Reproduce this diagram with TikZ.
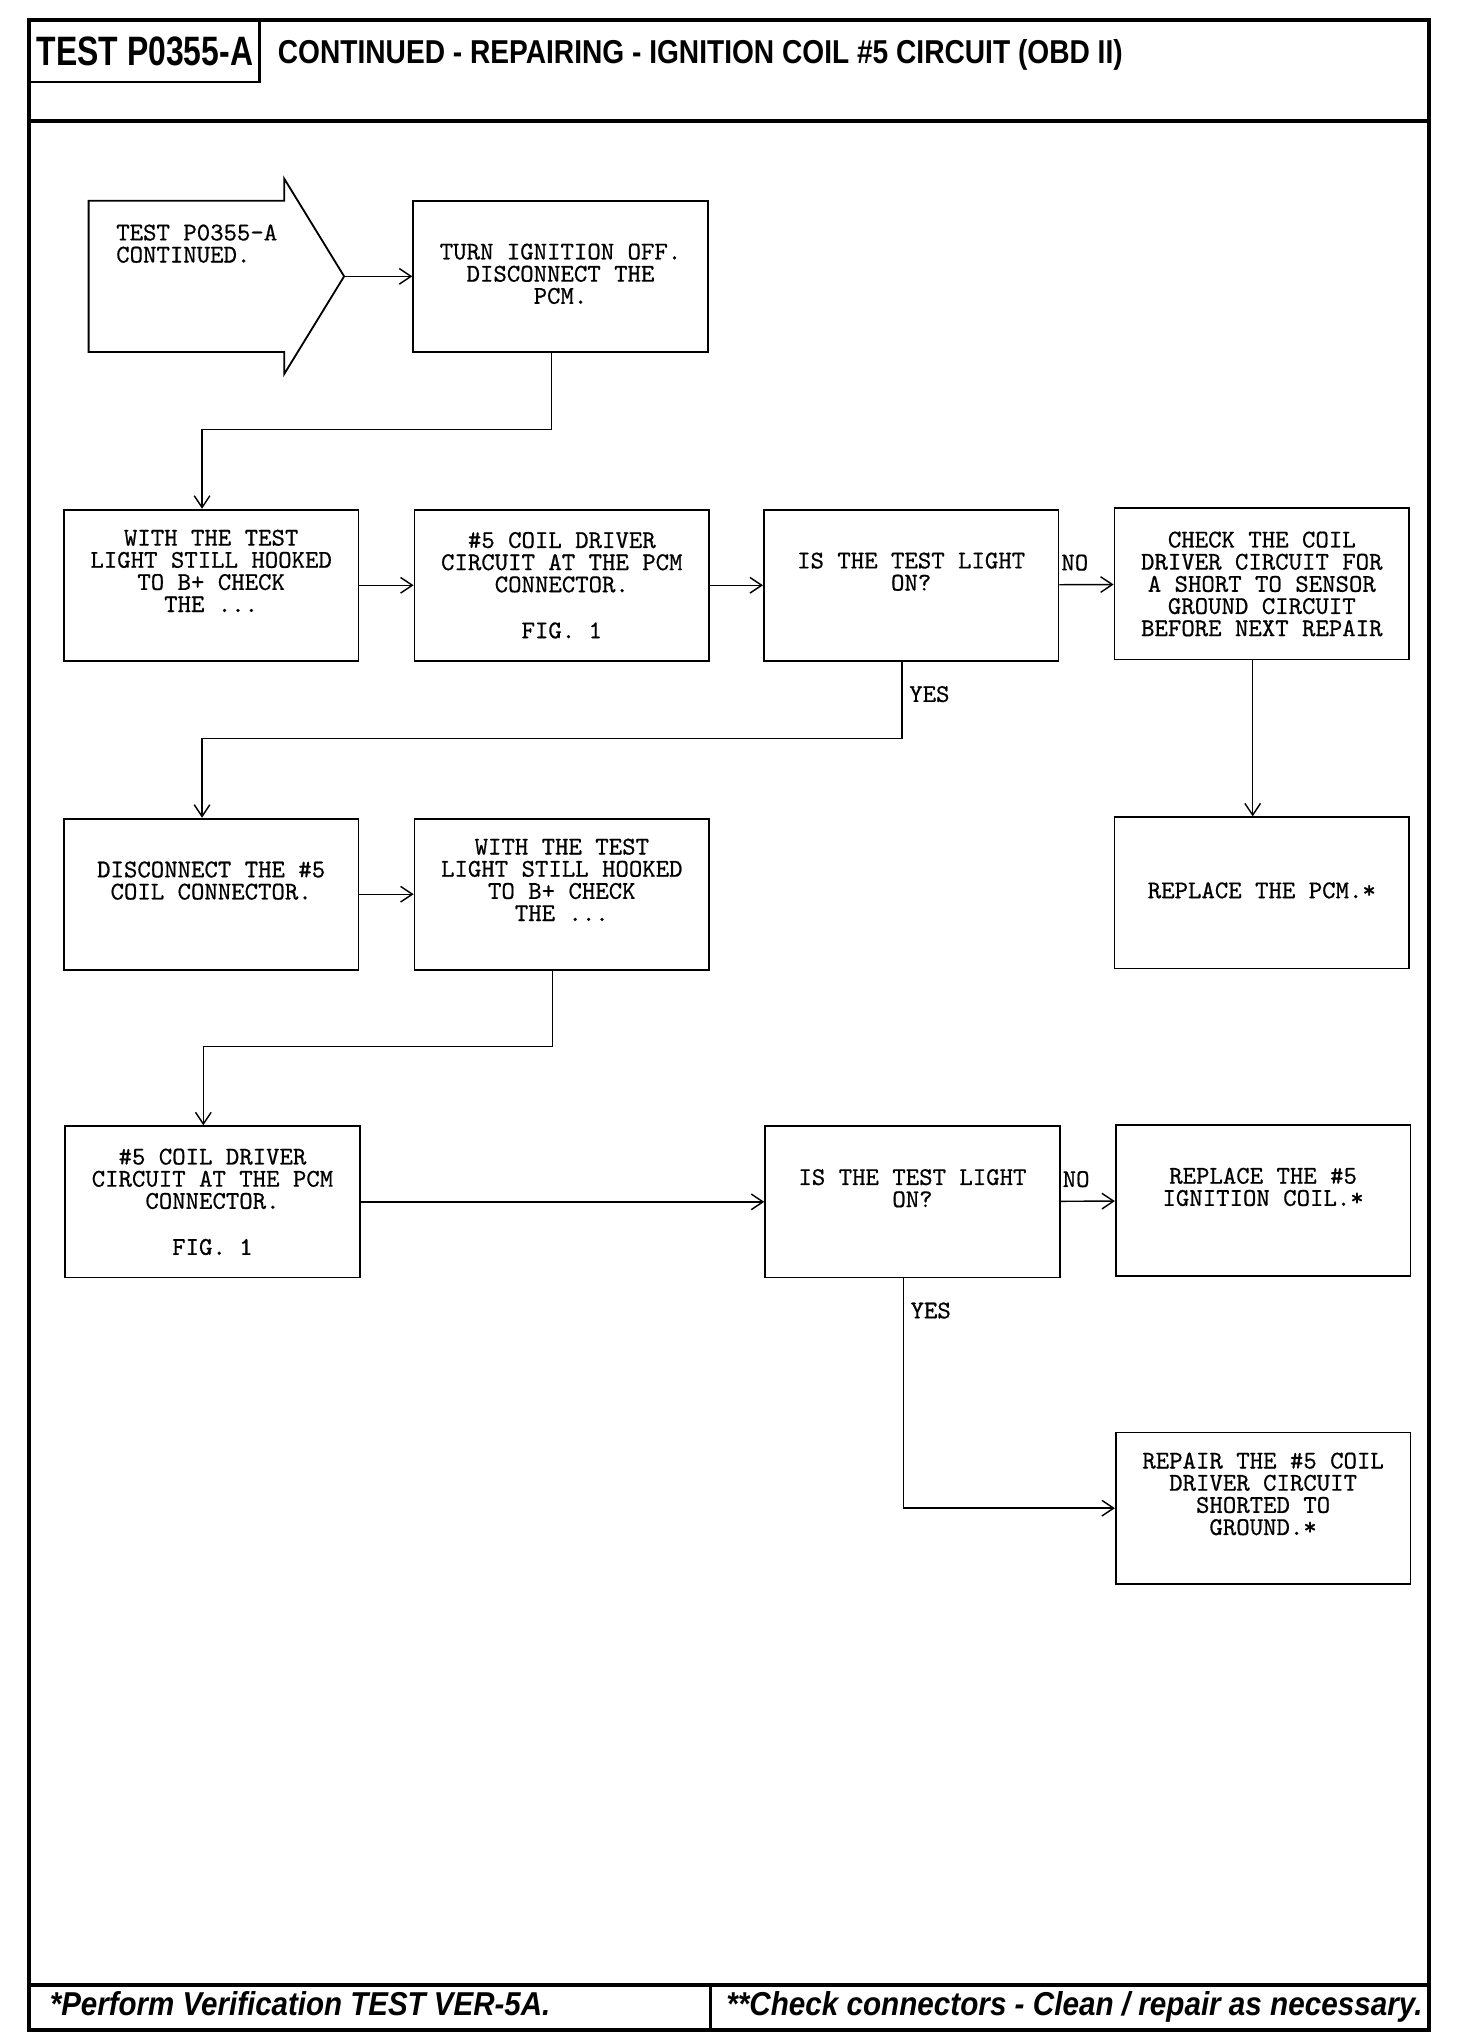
\documentclass[tikz,border=0pt]{standalone}
\usepackage{fontspec}
\usepackage{graphicx}
\usetikzlibrary{arrows.meta}

\newfontfamily\headfont{Liberation Sans}
\setmonofont{lmmono10-regular.otf}[FakeBold=0.6]
\newcommand{\boxfont}{\fontsize{19.6pt}{17pt}\selectfont\ttfamily}

\tikzset{
  box/.style={draw, line width=1.4pt, minimum width=226pt, minimum height=116pt,
    inner sep=0pt, align=center, font=\boxfont},
  arr/.style={line width=1.1pt, -{Straight Barb[length=9pt,width=12pt,line width=1.1pt]}},
  lbl/.style={inner sep=0pt, font=\boxfont},
  head/.style={anchor=base west, inner sep=0pt},
}

\begin{document}
\begin{tikzpicture}[x=1pt,y=-1pt]

        \useasboundingbox (0,0) rectangle (1117,1565);

        % frame, header and footer
        \draw[line width=3pt] (22,15) rectangle (1096,1557);
        \draw[line width=3pt] (22,93) -- (1096,93);
        \draw[line width=2pt] (22,63) -- (199,63) -- (199,15);
        \draw[line width=3pt] (22,1523) -- (1096,1523);
        \draw[line width=2pt] (545,1523) -- (545,1557);

        \node[head] (testid) at (28,50)
          {\resizebox{166pt}{22pt}{\headfont\bfseries TEST P0355-A}};
        \node[head] (title) at (213,49)
          {\resizebox{648pt}{18.4pt}{\headfont\bfseries CONTINUED - REPAIRING - IGNITION COIL \#5 CIRCUIT (OBD II)}};
        \node[head] (note1) at (38,1546)
          {\resizebox{384pt}{18.4pt}{\headfont\bfseries\itshape *Perform Verification TEST VER-5A.}};
        \node[head] (note2) at (557,1546)
          {\resizebox{534pt}{18.4pt}{\headfont\bfseries\itshape **Check connectors - Clean / repair as necessary.}};

        % start arrow
        \draw[line width=1.4pt] (68,154) -- (218,154) -- (218,137) -- (264,212)
          -- (218,287) -- (218,270) -- (68,270) -- cycle;
        \coordinate (starttip) at (264,212);
        \node[lbl, anchor=north west, align=left] (start) at (89,172)
          {TEST P0355-A\\CONTINUED.};

        \begin{scope}[every node/.style={box}]
          \node (off)    at (430,212)  {\strut\\TURN IGNITION OFF.\\DISCONNECT THE\\PCM.\\\strut};
          \node (chk1)   at (162,449)  {WITH THE TEST\\LIGHT STILL HOOKED\\TO B+ CHECK\\THE ...\\\strut};
          \node (drv1)   at (431,449)  {\#5 COIL DRIVER\\CIRCUIT AT THE PCM\\CONNECTOR.\\\strut\\FIG. 1};
          \node (ask1)   at (699,449)  {\strut\\IS THE TEST LIGHT\\ON?\\\strut\\\strut};
          \node (gnd)    at (968,448)  {CHECK THE COIL\\DRIVER CIRCUIT FOR\\A SHORT TO SENSOR\\GROUND CIRCUIT\\BEFORE NEXT REPAIR};
          \node (pcm)    at (968,685)  {\strut\\\strut\\REPLACE THE PCM.*\\\strut\\\strut};
          \node (unplug) at (162,686)  {\strut\\DISCONNECT THE \#5\\COIL CONNECTOR.\\\strut\\\strut};
          \node (chk2)   at (431,686)  {WITH THE TEST\\LIGHT STILL HOOKED\\TO B+ CHECK\\THE ...\\\strut};
          \node (drv2)   at (163,922)  {\#5 COIL DRIVER\\CIRCUIT AT THE PCM\\CONNECTOR.\\\strut\\FIG. 1};
          \node (ask2)   at (700,922)  {\strut\\IS THE TEST LIGHT\\ON?\\\strut\\\strut};
          \node (coil)   at (969,921)  {\strut\\REPLACE THE \#5\\IGNITION COIL.*\\\strut\\\strut};
          \node (repair) at (969,1157) {REPAIR THE \#5 COIL\\DRIVER CIRCUIT\\SHORTED TO\\GROUND.*\\\strut};
        \end{scope}

        \begin{scope}[every edge/.style={draw,arr}]
          \path (starttip) edge (off);
          \path (chk1)   edge (drv1);
          \path (drv1)   edge (ask1);
          \path (ask1)   edge node[lbl, at start, anchor=base west, xshift=1pt, yshift=11pt] {NO} (gnd);
          \path ([xshift=-7pt]gnd.south) edge ([xshift=-7pt]pcm.north);
          \path (unplug) edge (chk2);
          \path (drv2)   edge (ask2);
          \path (ask2)   edge node[lbl, at start, anchor=base west, xshift=1pt, yshift=11pt] {NO} (coil);
        \end{scope}

        \draw[arr] ([xshift=-7pt]off.south) -- ++(0,59) -| ([xshift=-7pt]chk1.north);
        \draw[arr] ([xshift=-7pt]ask1.south)
          -- node[lbl, anchor=west, pos=0.42, xshift=5pt] {YES} ++(0,59)
          -| ([xshift=-7pt]unplug.north);
        \draw[arr] ([xshift=-7pt]chk2.south) -- ++(0,58) -| ([xshift=-7pt]drv2.north);
        \draw[arr] ([xshift=-7pt]ask2.south)
          |- node[lbl, anchor=west, pos=0.07, xshift=5pt] {YES} (repair.west);

      \end{tikzpicture}
\end{document}
